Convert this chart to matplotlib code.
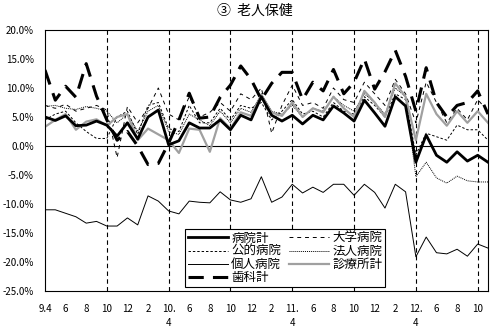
import matplotlib
matplotlib.use('Agg')
import matplotlib.pyplot as plt
from matplotlib.lines import Line2D

plt.rcParams['font.family'] = ['Noto Sans CJK JP', 'DejaVu Sans']

# 9.4 (1997年4月) ～ 12.11 (2000年11月) の対前年同月比 (%)
months = list(range(44))
xlabels = ['9.4', '6', '8', '10', '12', '2', '10.\n4', '6', '8', '10', '12', '2',
           '11.\n4', '6', '8', '10', '12', '2', '12.\n4', '6', '8', '10']

byoin = [5.0, 4.4, 5.2, 3.5, 3.6, 4.3, 3.6, 1.7, 4.0, 1.2, 5.0, 6.2, 0.2, 0.9,
         4.0, 3.1, 3.1, 4.5, 2.8, 5.3, 4.5, 8.5, 5.3, 4.3, 5.3, 3.8, 5.3, 4.5,
         6.9, 5.7, 4.3, 7.9, 5.7, 3.4, 8.5, 6.9, -2.8, 1.9, -1.6, -2.8, -1.0,
         -2.6, -1.6, -2.8]
daigaku = [7.0, 6.5, 7.2, 6.0, 6.5, 7.0, 6.2, -2.0, 6.8, 4.0, 6.5, 10.0, 5.5,
           4.5, 8.5, 5.0, 5.8, 7.5, 6.0, 9.0, 8.0, 10.0, 2.2, 7.0, 10.5, 7.0,
           7.5, 6.5, 10.0, 8.0, 7.5, 11.0, 9.0, 7.0, 11.5, 9.0, 4.0, 11.0, 7.5,
           4.0, 6.5, 4.5, 8.0, 6.0]
koteki = [4.5, 5.5, 6.0, 4.0, 2.5, 1.3, 1.3, 5.0, 6.0, 2.0, 7.0, 7.5, 3.0, 2.5,
          7.0, 4.0, 4.0, 6.5, 4.5, 7.0, 6.5, 7.5, 4.5, 6.0, 8.0, 5.5, 6.0, 5.0,
          7.5, 6.0, 5.5, 8.5, 7.0, 5.0, 9.0, 8.0, -1.5, 2.2, 1.6, 1.0, 3.6,
          2.8, 2.8, 1.0]
hojin = [6.8, 7.0, 6.5, 6.3, 6.8, 6.5, 6.0, 4.0, 5.5, 2.5, 6.0, 7.0, 2.5, 2.0,
         5.5, 4.5, 3.5, 6.0, 4.0, 6.5, 5.8, 9.0, 6.0, 5.5, 7.0, 5.0, 6.5, 6.0,
         8.5, 7.0, 6.0, 9.0, 7.5, 5.5, 10.0, 8.5, -5.3, -2.8, -5.5, -6.4, -5.2,
         -6.0, -6.2, -6.2]
kojin = [-11.0, -11.0, -11.6, -12.2, -13.3, -13.0, -13.8, -13.8, -12.4, -13.6,
         -8.6, -9.5, -11.2, -11.7, -9.5, -9.7, -9.8, -7.9, -9.3, -9.7, -9.1,
         -5.3, -9.7, -8.8, -6.6, -8.1, -7.1, -8.0, -6.6, -6.6, -8.5, -6.6, -8.0,
         -10.7, -6.6, -7.9, -19.1, -15.7, -18.4, -18.6, -17.8, -19.0, -16.9,
         -17.6]
shinryo = [3.3, 4.5, 5.5, 2.8, 4.2, 4.6, 3.5, 5.0, 5.5, 1.0, 3.0, 2.0, 1.0, -1.2,
           3.0, 2.8, -1.0, 4.8, 3.0, 5.8, 5.2, 8.8, 5.8, 5.2, 7.5, 5.0, 6.5, 5.8,
           8.5, 6.5, 5.0, 9.5, 7.5, 5.0, 10.8, 8.5, 1.0, 9.0, 5.5, 3.5, 6.0,
           4.0, 6.0, 4.0]
shika = [13.1, 7.9, 10.3, 8.4, 14.2, 8.6, 4.5, 1.0, 2.5, 0.0, -3.2, -3.0, 0.5,
         4.5, 9.1, 4.8, 5.0, 8.4, 10.5, 13.8, 11.5, 8.0, 10.8, 12.7, 12.7, 8.0,
         11.0, 9.5, 13.2, 9.0, 11.0, 15.0, 9.8, 12.8, 16.5, 12.0, 6.0, 13.5,
         7.5, 5.0, 7.0, 7.5, 9.5, 5.5]

fig = plt.figure(figsize=(4.91, 3.30), dpi=100)
ax = fig.add_axes([45 / 491, 1 - 291 / 330, 443 / 491, 261 / 330])

# 半年ごとの破線
for m in range(6, 44, 6):
    ax.axvline(m, color='black', lw=0.8, ls=(0, (4, 3)), zorder=1)
ax.axhline(0, color='black', lw=0.8, zorder=1)

ax.plot(months, kojin, color='black', lw=0.7, label='個人病院')
ax.plot(months, hojin, color='black', lw=0.7, ls=(0, (1, 1)), label='法人病院')
ax.plot(months, koteki, color='black', lw=0.7, ls=(0, (2.5, 2)), label='公的病院')
ax.plot(months, daigaku, color='black', lw=0.7, ls=(0, (4, 4)), label='大学病院')
ax.plot(months, shinryo, color='#a0a0a0', lw=1.6, label='診療所計')
ax.plot(months, shika, color='black', lw=2.2, ls=(0, (5, 3)), label='歯科計')
ax.plot(months, byoin, color='black', lw=2.0, label='病院計')

ax.set_xlim(0, 43)
ax.set_ylim(-25, 20)
ax.set_yticks(range(-25, 21, 5))
ax.set_yticklabels(['%.1f%%' % v for v in range(-25, 21, 5)], fontsize=7)
ax.set_xticks(range(0, 44, 2))
ax.set_xticklabels(xlabels, fontsize=7, linespacing=1.6, va='top')
ax.tick_params(axis='both', length=0)
ax.tick_params(axis='y', pad=8)
ax.tick_params(axis='x', pad=9)
for s in ax.spines.values():
    s.set_linewidth(0.8)

fig.text(255 / 491, 1 - 11 / 330, '③  老人保健', ha='center', va='center', fontsize=10)

handles = [
    Line2D([], [], color='black', lw=2.0),
    Line2D([], [], color='black', lw=0.7, ls=(0, (2.5, 2))),
    Line2D([], [], color='black', lw=0.7),
    Line2D([], [], color='black', lw=2.2, ls=(0, (5, 3))),
    Line2D([], [], color='black', lw=0.7, ls=(0, (4, 4))),
    Line2D([], [], color='black', lw=0.7, ls=(0, (1, 1))),
    Line2D([], [], color='#a0a0a0', lw=1.6),
]
labels = ['病院計', '公的病院', '個人病院', '歯科計', '大学病院', '法人病院', '診療所計']
leg = fig.legend(handles, labels, ncol=2, loc='lower left',
                 bbox_to_anchor=(185 / 491, 1 - 287 / 330), fontsize=9,
                 frameon=True, fancybox=False, edgecolor='black', framealpha=1,
                 borderpad=0.2, labelspacing=0.02, handlelength=3.2,
                 handletextpad=0.3, columnspacing=0.6, borderaxespad=0)
leg.get_frame().set_linewidth(0.8)

fig.savefig('out.png', dpi=100)
